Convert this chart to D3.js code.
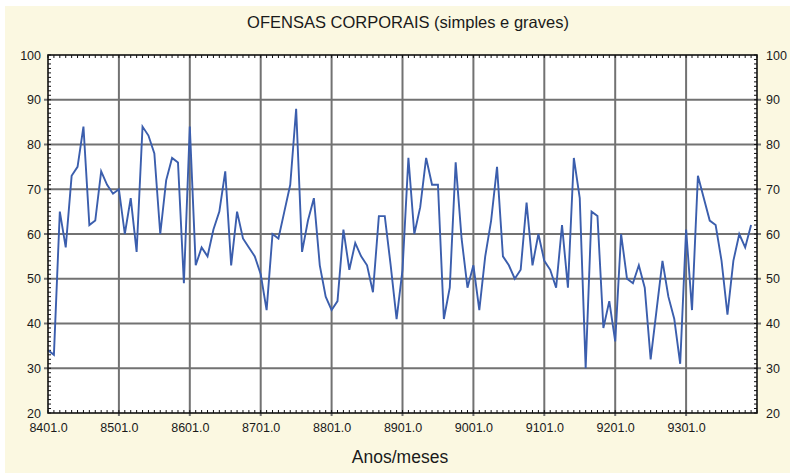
<!DOCTYPE html>
<html>
<head>
<meta charset="utf-8">
<script src="https://cdn.jsdelivr.net/npm/d3@7/dist/d3.min.js"></script>
<style>
  html, body { margin: 0; padding: 0; background: #ffffff; }
  svg { display: block; }
  text { font-family: "Liberation Sans", Arial, sans-serif; fill: #1a1a1a; }
</style>
</head>
<body>
<svg id="chart" width="790" height="476"></svg>
<script>
// Monthly counts, January 1984 through December 1993
const values = [
  34, 33, 65, 57, 73, 75, 84, 62, 63, 74, 71, 69,
  70, 60, 68, 56, 84, 82, 78, 60, 72, 77, 76, 49,
  84, 53, 57, 55, 61, 65, 74, 53, 65, 59, 57, 55,
  51, 43, 60, 59, 65, 71, 88, 56, 63, 68, 53, 46,
  43, 45, 61, 52, 58, 55, 53, 47, 64, 64, 53, 41,
  52, 77, 60, 66, 77, 71, 71, 41, 48, 76, 59, 48,
  53, 43, 55, 63, 75, 55, 53, 50, 52, 67, 53, 60,
  54, 52, 48, 62, 48, 77, 68, 30, 65, 64, 39, 45,
  36, 60, 50, 49, 53, 48, 32, 43, 54, 46, 41, 31,
  61, 43, 73, 68, 63, 62, 54, 42, 54, 60, 57, 62
];
// Year tick labels (one per January)
const xTickLabels = ["8401.0", "8501.0", "8601.0", "8701.0", "8801.0",
                     "8901.0", "9001.0", "9101.0", "9201.0", "9301.0"];
const yTicks = [20, 30, 40, 50, 60, 70, 80, 90, 100];
const title = "OFENSAS CORPORAIS (simples e graves)";
const xTitle = "Anos/meses";

const svg = d3.select("#chart");
const W = 790, H = 476;
const plot = { left: 48, right: 757, top: 55, bottom: 413 };

// Cream panel behind the chart
svg.append("rect").attr("x", 5).attr("y", 6).attr("width", W - 5).attr("height", H - 9)
  .attr("fill", "#fbf8e1");

const x = d3.scaleLinear().domain([0, 120]).range([plot.left, plot.right]);
const y = d3.scaleLinear().domain([20, 100]).range([plot.bottom, plot.top]);

// Plot background
svg.append("rect")
  .attr("x", plot.left).attr("y", plot.top)
  .attr("width", plot.right - plot.left).attr("height", plot.bottom - plot.top)
  .attr("fill", "#ffffff");

const gridColor = "#727272";
// Horizontal grid
svg.append("g").selectAll("line").data(yTicks.slice(1, -1)).join("line")
  .attr("x1", plot.left - 4).attr("x2", plot.right + 4)
  .attr("y1", d => y(d)).attr("y2", d => y(d))
  .attr("stroke", gridColor).attr("stroke-width", 2);
// Vertical grid (one per January)
svg.append("g").selectAll("line").data(xTickLabels.map((_, i) => i * 12).slice(1)).join("line")
  .attr("x1", d => x(d)).attr("x2", d => x(d))
  .attr("y1", plot.top).attr("y2", plot.bottom + 3)
  .attr("stroke", gridColor).attr("stroke-width", 2);

// Minor ticks: one per unit on the value axes, one per month on the time axes
const minorY = d3.range(20, 101, 1);
const minorX = d3.range(0, 121, 1);
const ticks = svg.append("g").attr("stroke", "#111").attr("stroke-width", 1);
ticks.selectAll(".ml").data(minorY).join("line")
  .attr("x1", plot.left).attr("x2", plot.left + 3)
  .attr("y1", d => y(d)).attr("y2", d => y(d));
ticks.selectAll(".mr").data(minorY).join("line")
  .attr("x1", plot.right - 3).attr("x2", plot.right)
  .attr("y1", d => y(d)).attr("y2", d => y(d));
ticks.selectAll(".mt").data(minorX).join("line")
  .attr("x1", d => x(d)).attr("x2", d => x(d))
  .attr("y1", plot.top).attr("y2", plot.top + 3);
ticks.selectAll(".mb").data(minorX).join("line")
  .attr("x1", d => x(d)).attr("x2", d => x(d))
  .attr("y1", plot.bottom - 3).attr("y2", plot.bottom);

// Data line
const line = d3.line().x((d, i) => x(i)).y(d => y(d));
svg.append("path").datum(values)
  .attr("d", line)
  .attr("fill", "none")
  .attr("stroke", "#3b5ead")
  .attr("stroke-width", 1.9)
  .attr("stroke-linejoin", "miter");

// Plot frame
svg.append("rect")
  .attr("x", plot.left).attr("y", plot.top)
  .attr("width", plot.right - plot.left).attr("height", plot.bottom - plot.top)
  .attr("fill", "none").attr("stroke", "#111").attr("stroke-width", 1.6);

// Axis labels
const yAxisL = d3.axisLeft(y).tickValues(yTicks).tickSize(0).tickPadding(7);
const yAxisR = d3.axisRight(y).tickValues(yTicks).tickSize(0).tickPadding(9);
const xAxis = d3.axisBottom(x).tickValues(xTickLabels.map((_, i) => i * 12))
  .tickFormat((d, i) => xTickLabels[i]).tickSize(0).tickPadding(10);

function style(g) {
  g.select(".domain").remove();
  g.selectAll("text").attr("font-size", 12.5).attr("fill", "#1a1a1a")
    .attr("font-family", "'Liberation Sans', Arial, sans-serif");
}
svg.append("g").attr("transform", `translate(${plot.left},0)`).call(yAxisL).call(style);
svg.append("g").attr("transform", `translate(${plot.right},0)`).call(yAxisR).call(style);
svg.append("g").attr("transform", `translate(0,${plot.bottom})`).call(xAxis).call(style);

// Titles
svg.append("text").attr("x", 408).attr("y", 28).attr("text-anchor", "middle")
  .attr("font-size", 16.5).text(title);
svg.append("text").attr("x", 400).attr("y", 463).attr("text-anchor", "middle")
  .attr("font-size", 17.5).text(xTitle);
</script>
</body>
</html>
